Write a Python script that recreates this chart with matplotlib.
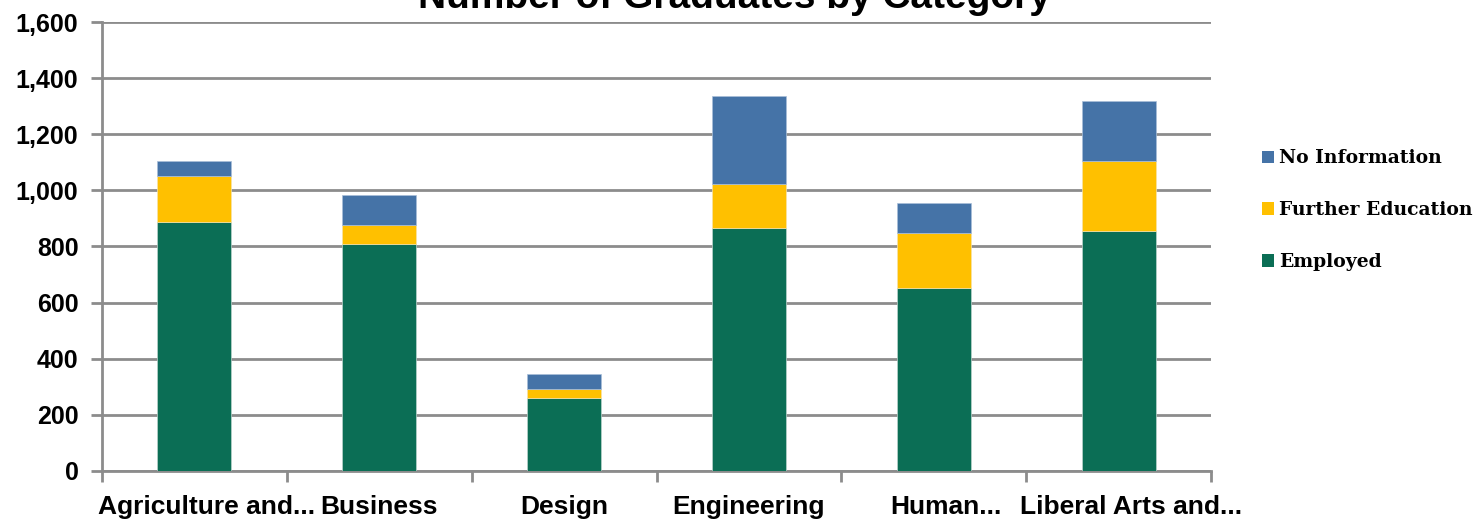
import numpy as np
import matplotlib.pyplot as plt
import matplotlib.transforms as mtransforms
from matplotlib.patches import Patch
from matplotlib.ticker import FuncFormatter

# Datos
categories = ["Agriculture and...", "Business", "Design", "Engineering",
              "Human...", "Liberal Arts and..."]
employed = [886, 808, 260, 866, 651, 855]
further_education = [166, 70, 31, 157, 197, 249]
no_information = [52, 105, 56, 313, 106, 213]

series_names = ["Employed", "Further Education", "No Information"]
colors = ["#0B6E55", "#FFC000", "#4573A7"]

fig = plt.figure(figsize=(14.81, 5.19), dpi=100)
ax = fig.add_axes([0.0689, 0.0925, 0.7488, 0.8651])

x = np.arange(len(categories))
emp = np.array(employed)
fe = np.array(further_education)
ni = np.array(no_information)

ax.bar(x, emp, width=0.4, color=colors[0], edgecolor="#bcd3cc", linewidth=0.5, zorder=3)
ax.bar(x, fe, width=0.4, bottom=emp, color=colors[1], edgecolor="#f5e2a8", linewidth=0.5, zorder=3)
ax.bar(x, ni, width=0.4, bottom=emp + fe, color=colors[2], edgecolor="#a9bfd9", linewidth=0.5, zorder=3)

ax.set_xlim(-0.5, len(categories) - 0.5)
ax.set_ylim(0, 1600)
ax.set_yticks(np.arange(0, 1601, 200))
ax.yaxis.set_major_formatter(FuncFormatter(lambda v, p: f"{int(v):,}"))
ax.grid(axis="y", color="#8c8c8c", linewidth=2, zorder=0)

for side in ["top", "right"]:
    ax.spines[side].set_visible(False)
ax.spines["left"].set_color("#8c8c8c")
ax.spines["left"].set_linewidth(2)
ax.spines["bottom"].set_color("#8c8c8c")
ax.spines["bottom"].set_linewidth(2)

ax.tick_params(axis="y", length=8, width=2, color="#8c8c8c", pad=9,
               labelsize=18)
ax.set_xticks(x)
ax.set_xticklabels(categories)
ax.tick_params(axis="x", which="major", length=0, pad=17, labelsize=19)
ax.set_xticks(np.arange(-0.5, len(categories), 1), minor=True)
ax.tick_params(axis="x", which="minor", length=8, width=2, color="#8c8c8c")
for lab in ax.get_xticklabels() + ax.get_yticklabels():
    lab.set_fontweight("bold")
    lab.set_family("Liberation Sans")

# las etiquetas recortadas con "..." quedan algo desplazadas a la derecha
shift = mtransforms.ScaledTranslation(12 / 100, 0, fig.dpi_scale_trans)
for lab in ax.get_xticklabels():
    if lab.get_text().endswith("..."):
        lab.set_transform(lab.get_transform() + shift)

# Título recortado por el borde superior
fig.text(0.496, 0.9846, "Number of Graduates by Category", ha="center",
         va="baseline", fontsize=28, fontweight="bold", family="Liberation Sans")

handles = [Patch(facecolor=colors[i], label=series_names[i]) for i in (2, 1, 0)]
fig.legend(handles=handles, loc="center left", bbox_to_anchor=(0.8405, 0.595),
           frameon=False, handlelength=0.65, handleheight=0.65, handletextpad=0.3,
           labelspacing=1.8, prop={"family": "DejaVu Serif", "weight": "bold",
                                   "size": 13.5})

plt.savefig("out.png", dpi=100)
